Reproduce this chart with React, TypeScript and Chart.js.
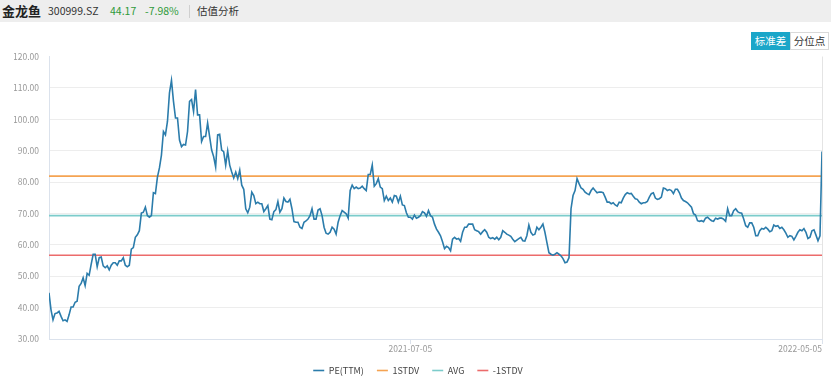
import React, { useEffect, useRef } from 'react';
import { Chart, registerables } from 'chart.js';

Chart.register(...registerables);

const FONT = "'Noto Sans CJK SC', 'Noto Sans', sans-serif";

// PE(TTM) per trading day, 2020-10-15 .. 2022-05-05
const peValues: number[] = [
  44.7, 39.3, 36.1, 38.1, 38.3, 38.8, 37.2, 35.8, 36.1, 35.6,
  37.7, 40.2, 40.2, 41.7, 42.0, 46.8, 47.7, 49.5, 47.0, 50.9,
  50.3, 53.8, 57.0, 57.0, 53.0, 55.9, 56.1, 53.3, 52.7, 53.3,
  52.0, 53.5, 54.3, 54.3, 53.5, 54.9, 54.9, 55.9, 53.5, 53.0,
  53.5, 58.6, 59.1, 62.4, 63.2, 64.5, 70.1, 70.4, 72.0, 69.3,
  68.8, 69.3, 76.6, 76.3, 81.6, 84.5, 88.6, 96.1, 95.0, 99.3,
  108.4, 112.4, 105.7, 100.4, 100.4, 93.4, 91.3, 92.0, 91.8, 96.1,
  105.7, 106.3, 102.5, 109.5, 101.4, 101.4, 92.9, 94.5,
  94.5, 98.8, 94.5, 90.2, 88.1, 84.8, 95.0, 95.2, 90.2, 89.7,
  85.4, 89.9, 85.4, 83.2, 81.3, 83.2, 81.1, 83.8, 79.0, 77.7,
  71.5, 70.2, 72.0, 76.8, 75.7, 73.1, 73.6, 73.1, 73.1, 70.6,
  71.5, 72.5, 68.2, 68.0, 70.6, 71.2, 73.8, 70.4, 71.5, 74.9,
  73.8, 73.6, 74.5, 71.5, 67.4, 67.2, 67.2, 65.6, 65.2, 67.2,
  67.6, 68.2, 69.3, 71.5, 68.2, 68.2, 71.1, 71.5, 69.3, 65.6,
  63.7, 63.4, 64.0, 65.6, 65.0, 63.4, 67.2, 69.3, 70.9, 70.4,
  69.9, 68.5, 77.3, 79.0, 77.9, 78.4, 77.9,
  78.1, 78.7, 77.9, 77.3, 82.4, 82.4, 85.4, 78.7, 79.5, 81.1,
  78.4, 77.9, 74.1, 75.5, 74.1, 74.9, 73.6, 75.7, 75.5, 73.6,
  75.5, 72.7, 72.5, 70.2, 68.8, 68.8, 68.2, 69.5, 68.5, 68.8,
  69.3, 70.6, 70.2, 69.1, 70.9, 69.3, 68.8, 66.6, 65.0, 64.0,
  62.9, 61.0, 58.8, 59.5, 59.1, 58.1, 61.8, 62.4, 61.8, 62.0,
  61.1, 64.0, 65.6, 65.6, 66.6, 66.6, 66.6, 64.8, 64.5, 64.2,
  63.4, 64.2, 64.8, 64.0, 62.4, 62.0, 62.3, 61.8, 62.4, 61.6,
  62.4, 64.5, 64.0, 63.4, 63.1, 62.7, 61.8, 61.0,
  61.5, 62.0, 62.4, 61.3, 61.2, 62.9, 66.3, 64.0, 63.1, 63.4,
  65.6, 64.8, 65.6, 66.6, 64.0, 60.7, 57.5, 57.0, 56.7, 57.0,
  57.5, 57.0, 56.5, 55.6, 54.3, 54.5, 55.9, 71.5, 75.7, 77.3,
  81.1, 79.5, 78.1, 77.7, 76.8, 76.3, 76.0, 77.3, 78.1, 77.3,
  76.6, 76.8, 76.8, 76.6, 75.2, 73.6, 73.6, 73.1, 73.4, 72.7,
  72.3, 73.6, 73.4, 74.9, 76.0, 76.6, 76.3, 76.4, 75.5, 74.7,
  74.5, 73.6, 73.1, 73.4, 73.4, 73.8, 75.2, 76.3, 76.6, 74.9,
  74.5, 74.7, 75.2, 78.1, 77.9, 77.3, 77.6,
  77.3, 76.3, 77.7, 77.7, 76.6, 74.9, 74.1, 73.8, 73.4, 72.7,
  72.0, 69.9, 69.5, 67.7, 67.5, 67.7, 67.4, 68.5, 68.8, 68.2,
  67.7, 67.5, 68.5, 68.2, 68.5, 68.5, 68.2, 67.5, 71.5, 69.3,
  69.3, 70.9, 71.5, 70.6, 70.2, 70.1, 68.2, 66.1, 65.6, 67.0,
  67.0, 65.6, 62.9, 62.9, 64.5, 65.2, 65.0, 65.6, 65.0, 64.2,
  64.5, 66.3, 65.9, 66.1, 65.2, 65.6, 64.8, 63.7, 62.4, 62.9,
  62.7, 61.6, 62.7, 64.0, 64.8, 64.5, 65.2, 64.0, 62.0, 62.4,
  64.5, 64.8, 63.1, 61.3, 62.9, 89.7,
];

const stdUpper = 81.9;
const avgValue = 69.3;
const stdLower = 56.7;

const seriesNames = ['PE(TTM)', '1STDV', 'AVG', '-1STDV'];
const seriesColors = ['#2b7cab', '#f5a352', '#7ccccb', '#ec6b6b'];

const xTickIndex = [0, 180, 385];
const xTickLabels = ['', '2021-07-05', '2022-05-05'];

const yMin = 30;
const yMax = 120;
const yStep = 10;

function PEChart() {
  const ref = useRef<HTMLCanvasElement | null>(null);

  useEffect(() => {
    if (!ref.current) return;
    const last = peValues.length - 1;
    const flat = (v: number) => [
      { x: 0, y: v },
      { x: last, y: v },
    ];
    const lineDs = (i: number, data: { x: number; y: number }[]) => ({
      label: seriesNames[i],
      data,
      borderColor: seriesColors[i],
      backgroundColor: seriesColors[i],
      borderWidth: 1.6,
      pointRadius: 0,
      pointHoverRadius: 0,
      tension: 0,
      fill: false,
    });
    const chart = new Chart(ref.current, {
      type: 'line',
      data: {
        datasets: [
          lineDs(0, peValues.map((v, i) => ({ x: i, y: v }))),
          lineDs(1, flat(stdUpper)),
          lineDs(2, flat(avgValue)),
          lineDs(3, flat(stdLower)),
        ],
      },
      options: {
        responsive: false,
        animation: false,
        layout: { padding: { left: 14, right: 9, top: 34.5, bottom: 0 } },
        plugins: {
          tooltip: { enabled: false },
          legend: {
            position: 'bottom',
            labels: {
              usePointStyle: true,
              pointStyle: 'line',
              pointStyleWidth: 11,
              boxHeight: 2,
              padding: 13,
              color: '#444',
              font: { size: 9, family: FONT },
            },
          },
        },
        scales: {
          x: {
            type: 'linear',
            min: 0,
            max: last,
            afterBuildTicks: (axis: any) => {
              axis.ticks = xTickIndex.map((v) => ({ value: v }));
            },
            afterFit: (axis: any) => {
              axis.height = 14;
            },
            ticks: {
              align: 'inner',
              autoSkip: false,
              maxRotation: 0,
              padding: 0,
              color: '#999',
              font: { size: 8.5, family: FONT },
              callback: (v: any) => {
                const k = xTickIndex.indexOf(Number(v));
                return k >= 0 ? xTickLabels[k] : '';
              },
            },
            grid: {
              drawOnChartArea: true,
              tickLength: 5,
              color: (ctx: any) =>
                ctx.tick && ctx.tick.value === last ? '#e4e4e4' : 'rgba(0,0,0,0)',
              tickColor: (ctx: any) =>
                ctx.tick && ctx.tick.value === 0 ? 'rgba(0,0,0,0)' : '#dbe2ec',
            },
            border: { display: true, color: '#dbe2ec', width: 1 },
          },
          y: {
            min: yMin,
            max: yMax,
            afterFit: (axis: any) => {
              axis.width = 35;
            },
            ticks: {
              stepSize: yStep,
              padding: 10,
              color: '#999',
              font: { size: 8.5, family: FONT },
              callback: (v: any) => Number(v).toFixed(2),
            },
            grid: {
              drawTicks: false,
              color: (ctx: any) =>
                ctx.tick && ctx.tick.value === yMax ? 'rgba(0,0,0,0)' : '#ededed',
            },
            border: { display: true, color: '#dbe2ec', width: 1 },
          },
        },
      } as any,
    });
    return () => chart.destroy();
  }, []);

  return (
    <canvas
      ref={ref}
      width={831}
      height={363}
      style={{ position: 'absolute', left: 0, top: 22, width: 831, height: 363 }}
    />
  );
}

export default function App() {
  const txt = (left: number, content: string, style: React.CSSProperties = {}) => (
    <span
      style={{
        position: 'absolute',
        left,
        top: 0,
        lineHeight: '22px',
        fontSize: 11,
        color: '#333',
        whiteSpace: 'nowrap',
        ...style,
      }}
    >
      {content}
    </span>
  );
  const btn: React.CSSProperties = {
    position: 'absolute',
    top: 32,
    width: 39,
    height: 18,
    boxSizing: 'border-box',
    fontSize: 10.5,
    lineHeight: '16px',
    textAlign: 'center',
    fontFamily: FONT,
  };
  return (
    <div
      style={{
        position: 'fixed',
        left: 0,
        top: 0,
        width: 831,
        height: 379,
        overflow: 'hidden',
        background: '#fff',
        fontFamily: FONT,
      }}
    >
      <div style={{ position: 'absolute', left: 0, top: 0, width: 831, height: 22, background: '#eeeeee' }}>
        {txt(2, '金龙鱼', { fontWeight: 'bold', fontSize: 13, color: '#222' })}
        {txt(48, '300999.SZ', { fontSize: 10.5 })}
        {txt(110, '44.17', { fontSize: 10.5, color: '#2e9a3a' })}
        {txt(145, '-7.98%', { fontSize: 10.5, color: '#2e9a3a' })}
        <div style={{ position: 'absolute', left: 189, top: 5, width: 1, height: 13, background: '#cfcfcf' }} />
        {txt(197, '估值分析', { fontSize: 10.5 })}
      </div>
      <PEChart />
      <div style={{ ...btn, left: 751, background: '#1ba6c9', color: '#fff', border: '1px solid #1ba6c9' }}>标准差</div>
      <div style={{ ...btn, left: 790, background: '#fff', color: '#333', border: '1px solid #d9d9d9' }}>分位点</div>
    </div>
  );
}
